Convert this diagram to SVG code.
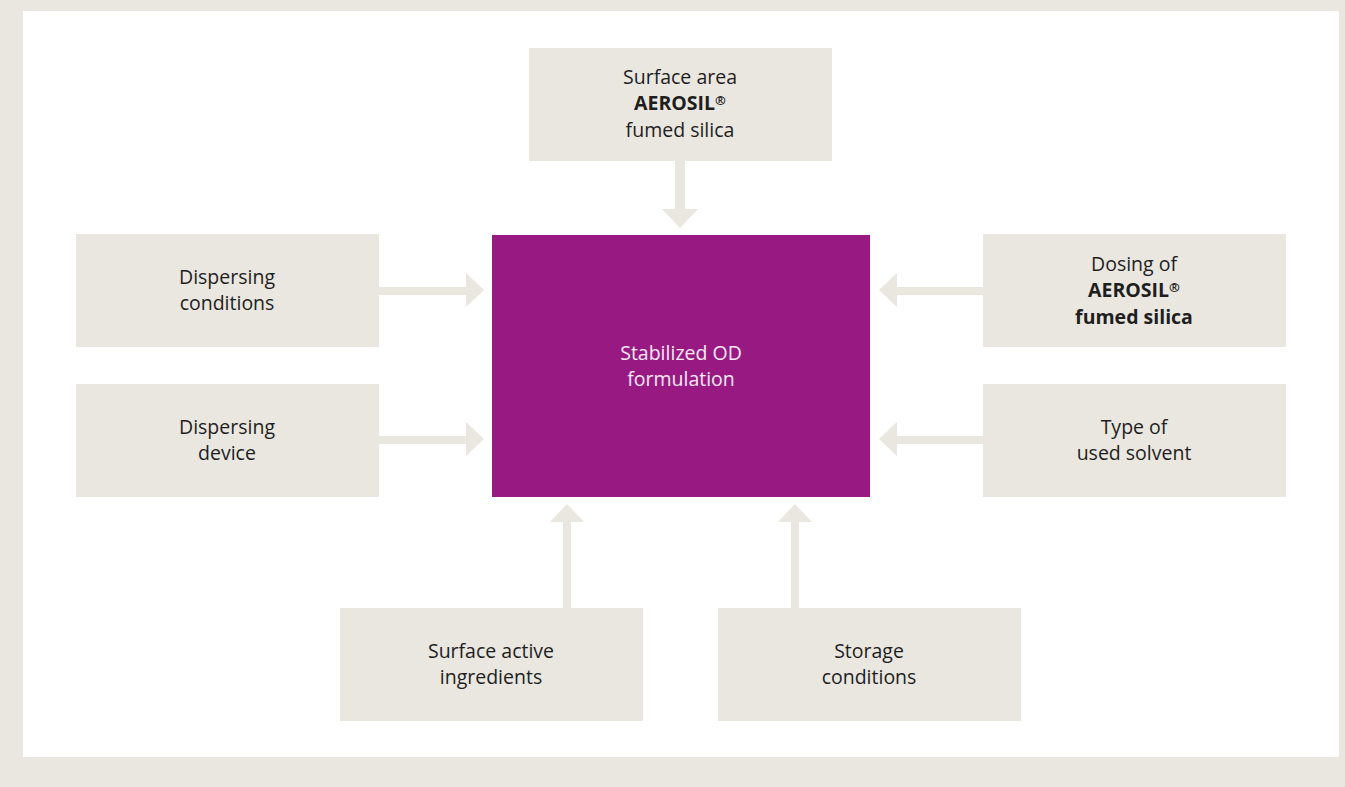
<svg xmlns="http://www.w3.org/2000/svg" width="1345" height="787" viewBox="0 0 1345 787">
<style>
.box{fill:#EAE7E0}
.t{font-family:"Open Sans","Noto Sans",sans-serif;font-size:19.5px;fill:#1e1e1e;text-anchor:middle}
.b{font-weight:700}
.r{font-size:13px}
.w{fill:#F6E9F3}
.arr{fill:#EAE7E0}
</style>
<rect x="0" y="0" width="1345" height="787" fill="#EAE7E1"/>
<rect x="23" y="11" width="1316" height="746" fill="#FFFFFF"/>
<g id="connectors">
<path class="arr" d="M675,160 H685 V209 H698 L680,228 L662,209 H675 Z"/>
<path class="arr" d="M379,287 H466 V273 L484,290 L466,307 V295 H379 Z"/>
<path class="arr" d="M379,436 H466 V422 L484,439 L466,456 V444 H379 Z"/>
<path class="arr" d="M983,287 H897 V273 L879,290 L897,307 V295 H983 Z"/>
<path class="arr" d="M983,436 H897 V422 L879,439 L897,456 V444 H983 Z"/>
<path class="arr" d="M563,608 V522 H550 L567,504 L584,522 H571 V608 Z"/>
<path class="arr" d="M791,608 V522 H778 L795,504 L812,522 H799 V608 Z"/>
</g>
<g id="center">
<rect x="492" y="235" width="378" height="262" fill="#981982"/>
<text class="t w" x="681" y="360">Stabilized OD</text>
<text class="t w" x="681" y="386">formulation</text>
</g>
<g id="surface-area">
<rect class="box" x="529" y="48" width="303" height="113"/>
<text class="t" x="680" y="84">Surface area</text>
<text class="t b" x="680" y="110">AEROSIL<tspan class="r" dy="-5">®</tspan></text>
<text class="t" x="680" y="137">fumed silica</text>
</g>
<g id="dispersing-conditions">
<rect class="box" x="76" y="234" width="303" height="113"/>
<text class="t" x="227" y="284">Dispersing</text>
<text class="t" x="227" y="310">conditions</text>
</g>
<g id="dispersing-device">
<rect class="box" x="76" y="384" width="303" height="113"/>
<text class="t" x="227" y="434">Dispersing</text>
<text class="t" x="227" y="460">device</text>
</g>
<g id="dosing">
<rect class="box" x="983" y="234" width="303" height="113"/>
<text class="t" x="1134" y="271">Dosing of</text>
<text class="t b" x="1134" y="297">AEROSIL<tspan class="r" dy="-5">®</tspan></text>
<text class="t b" x="1134" y="324">fumed silica</text>
</g>
<g id="solvent">
<rect class="box" x="983" y="384" width="303" height="113"/>
<text class="t" x="1134" y="434">Type of</text>
<text class="t" x="1134" y="460">used solvent</text>
</g>
<g id="surface-active">
<rect class="box" x="340" y="608" width="303" height="113"/>
<text class="t" x="491" y="658">Surface active</text>
<text class="t" x="491" y="684">ingredients</text>
</g>
<g id="storage">
<rect class="box" x="718" y="608" width="303" height="113"/>
<text class="t" x="869" y="658">Storage</text>
<text class="t" x="869" y="684">conditions</text>
</g>
</svg>
